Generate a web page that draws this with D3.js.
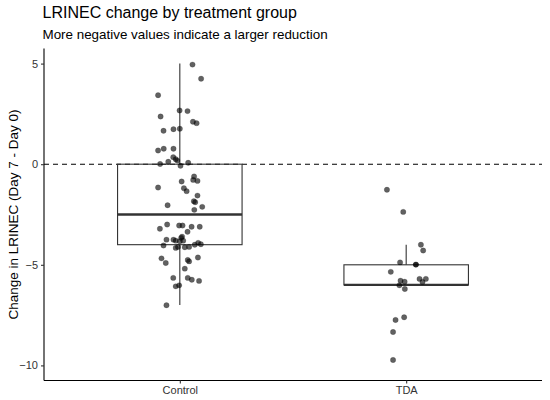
<!DOCTYPE html>
<html><head><meta charset="utf-8">
<script src="https://cdn.jsdelivr.net/npm/d3@7"></script>
<style>body{margin:0;background:#fff}svg{display:block}</style>
</head><body><svg id="c" width="550" height="400"></svg>
<script>
const categories = ["Control", "TDA"];
const yTicks = [5, 0, -5, -10];
// box statistics per group: [lower whisker, lower hinge, median, upper hinge, upper whisker]
const boxStats = [
  [-7, -4, -2.5, 0, 5],
  [-6, -6, -6, -5, -4]
];
const controlValues = [4.95,4.25,3.43,2.67,2.64,2.37,2.11,2.04,1.66,1.74,1.76,0.68,0.77,0.77,0.35,0.25,0.18,0.12,0.01,-0.08,0.07,-0.86,-0.61,-0.78,-0.83,-1.16,-1.19,-1.34,-1.56,-2.04,-1.84,-1.89,-2.12,-2.27,-3.21,-3.00,-3.05,-3.05,-3.11,-3.11,-3.36,-3.75,-3.75,-3.80,-3.66,-3.60,-3.83,-3.80,-4.04,-4.16,-4.11,-4.13,-4.11,-4.00,-3.91,-3.98,-4.68,-4.91,-4.76,-4.83,-4.64,-5.19,-5.65,-5.65,-5.74,-5.80,-6.07,-6.02,-7.01];
const controlJitter = [0.056,0.094,-0.096,-0.001,0.034,-0.085,0.058,0.074,-0.072,-0.028,0.0,-0.096,-0.071,-0.028,-0.029,-0.018,-0.011,-0.051,-0.087,0.003,0.037,0.008,0.063,0.059,0.078,-0.096,0.018,0.030,0.078,-0.054,0.062,0.068,0.099,0.064,-0.088,-0.056,-0.003,0.012,0.052,0.088,0.034,-0.059,-0.028,-0.018,0.006,0.010,0.0,0.015,-0.072,-0.018,-0.008,0.022,0.041,0.066,0.081,0.093,-0.081,-0.062,0.035,0.041,0.080,0.022,-0.029,0.035,0.053,0.085,-0.018,-0.003,-0.059];
const tdaValues = [-1.27,-2.37,-4.00,-4.29,-4.88,-4.99,-4.99,-5.35,-5.79,-5.84,-6.02,-6.20,-5.70,-5.70,-5.85,-7.61,-7.74,-8.34,-9.73];
const tdaJitter = [-0.085,-0.013,0.065,0.075,-0.027,0.043,0.043,-0.068,-0.025,-0.007,-0.030,-0.006,0.059,0.087,0.072,-0.009,-0.047,-0.058,-0.058];
const title = "LRINEC change by treatment group";
const subtitle = "More negative values indicate a larger reduction";
const yLabel = "Change in LRINEC (Day 7 - Day 0)";

const svg = d3.select("#c");
const font = "'Liberation Sans', Arial, sans-serif";
const m = {left: 44, right: 542, top: 48.5, bottom: 380.5};

const x = d3.scaleLinear().domain([0.4, 2.6]).range([m.left, m.right]);
const y = d3.scaleLinear().domain([-10.75, 5.75]).range([m.bottom, m.top]);
const boxHalf = 0.275;

svg.append("text").attr("x", 42.5).attr("y", 18).attr("font-family", font)
  .attr("font-size", 16).attr("fill", "#000").text(title);
svg.append("text").attr("x", 42.5).attr("y", 39).attr("font-family", font)
  .attr("font-size", 13.4).attr("fill", "#000").text(subtitle);

// zero reference line
svg.append("line").attr("x1", m.left).attr("x2", m.right)
  .attr("y1", y(0)).attr("y2", y(0))
  .attr("stroke", "#000").attr("stroke-width", 1.1).attr("stroke-dasharray", "5,4");

// boxes
const g = svg.append("g");
boxStats.forEach((s, i) => {
  const cx = x(i + 1);
  g.append("line").attr("x1", cx).attr("x2", cx).attr("y1", y(s[3])).attr("y2", y(s[4]))
    .attr("stroke", "#333").attr("stroke-width", 1.1);
  g.append("line").attr("x1", cx).attr("x2", cx).attr("y1", y(s[0])).attr("y2", y(s[1]))
    .attr("stroke", "#333").attr("stroke-width", 1.1);
  g.append("rect").attr("x", x(i + 1 - boxHalf)).attr("width", x(i + 1 + boxHalf) - x(i + 1 - boxHalf))
    .attr("y", y(s[3])).attr("height", y(s[1]) - y(s[3]))
    .attr("fill", "none").attr("stroke", "#333").attr("stroke-width", 1.1);
  g.append("line").attr("x1", x(i + 1 - boxHalf)).attr("x2", x(i + 1 + boxHalf))
    .attr("y1", y(s[2])).attr("y2", y(s[2]))
    .attr("stroke", "#333").attr("stroke-width", 2.4);
});

// points
const groups = [[controlValues, controlJitter], [tdaValues, tdaJitter]];
groups.forEach(([vals, jit], i) => {
  svg.append("g").selectAll("circle").data(vals).join("circle")
    .attr("cx", (d, k) => x(i + 1 + jit[k]))
    .attr("cy", d => y(d))
    .attr("r", 2.7)
    .attr("fill", "#000").attr("fill-opacity", 0.62)
    .attr("stroke", "#000").attr("stroke-opacity", 0.3).attr("stroke-width", 0.5);
});

// axes
const yAxis = svg.append("g").attr("transform", `translate(${m.left},0)`)
  .call(d3.axisLeft(y).tickValues(yTicks).tickSize(3).tickPadding(3).tickSizeOuter(0));
const xAxis = svg.append("g").attr("transform", `translate(0,${m.bottom})`)
  .call(d3.axisBottom(x).tickValues([1, 2]).tickFormat(d => categories[d - 1]).tickSize(3).tickPadding(3).tickSizeOuter(0));
[yAxis, xAxis].forEach(a => {
  a.select(".domain").attr("stroke", "#000").attr("stroke-width", 1.1);
  a.selectAll(".tick line").attr("stroke", "#333").attr("stroke-width", 1.1);
  a.selectAll(".tick text").attr("font-family", font).attr("font-size", 11).attr("fill", "#333");
});
yAxis.select(".domain").attr("d", `M0,${m.top}V${m.bottom}`);
xAxis.select(".domain").attr("d", `M${m.left},0H${m.right}`);

svg.append("text").attr("transform", `translate(13.5,${(m.top + m.bottom) / 2}) rotate(-90)`)
  .attr("text-anchor", "middle").attr("dy", "0.35em").attr("font-family", font)
  .attr("font-size", 13.5).attr("fill", "#000").text(yLabel);
</script></body></html>
